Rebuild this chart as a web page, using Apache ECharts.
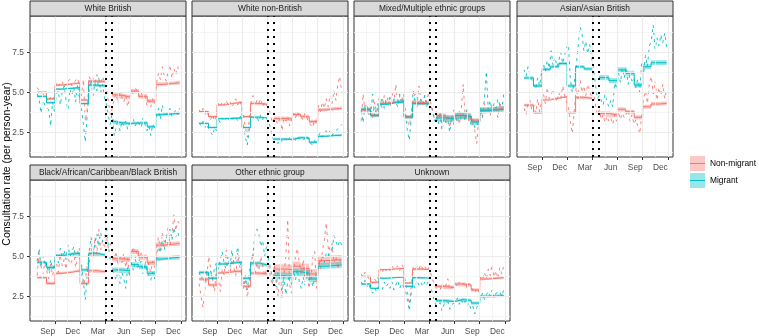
<!DOCTYPE html>
<html>
<head>
<meta charset="utf-8">
<script src="https://cdn.jsdelivr.net/npm/echarts@6/dist/echarts.min.js"></script>
<style>
  html, body { margin: 0; padding: 0; background: #fff; }
  #chart { width: 759px; height: 336px; }
</style>
</head>
<body>
<div id="chart"></div>
<script>
const panelNames = [
  "White British",
  "White non-British",
  "Mixed/Multiple ethnic groups",
  "Asian/Asian British",
  "Black/African/Caribbean/Black British",
  "Other ethnic group",
  "Unknown",
];

// x axis ticks
const tickDates = ["2019-09-01", "2019-12-01", "2020-03-01", "2020-06-01", "2020-09-01", "2020-12-01"];
const tickLabels = ["Sep", "Dec", "Mar", "Jun", "Sep", "Dec"];
const minorDates = ["2019-07-17", "2019-10-16", "2020-01-15", "2020-04-16", "2020-07-17", "2020-10-16"];
const yTicks = [2.5, 5.0, 7.5];
const yMinor = [1.25, 3.75, 6.25, 8.75];

// dotted lines (interruption period)
const breakDates = ["2020-03-05", "2020-03-26"];

// weekly observations start here, 75 weeks
const firstWeek = "2019-06-28";
const nWeeks = 75;

// fitted model: month steps before and after interruption
const fitPreStarts = ["2019-06-28", "2019-08-01", "2019-09-01", "2019-10-01", "2019-11-01", "2019-12-01", "2020-01-01", "2020-02-01"];
const fitPreEnd = "2020-03-01";
const fitPostStarts = ["2020-03-26", "2020-04-01", "2020-05-01", "2020-06-01", "2020-07-01", "2020-08-01", "2020-09-01", "2020-10-01", "2020-11-01"];
const fitPostEnd = "2020-11-27";

// observed weekly rates (non-migrant / migrant) per panel
const wbNonObs = [5.3,5.1,5.2,4.9,5.0, 4.6,4.4,4.7,4.5,4.8, 5.6,5.4,5.5,5.7, 5.3,5.6,5.5,5.8, 5.4,5.6,5.5,5.9,6.0, 4.8,5.8,3.2,4.0, 6.0,5.7,5.9,5.6,6.1, 5.8,5.5,6.0,5.6, 5.2,4.4,3.6,4.0, 4.6,4.9,4.3,5.0,4.7, 4.4,4.8,4.1,4.6, 5.1,4.8,5.3,5.0, 4.7,5.0,4.6,4.9,4.2, 4.5,4.1,4.6,4.3, 5.6,6.2,5.8,6.6,6.0, 5.7,6.3,6.7,5.9, 6.5,6.1,6.6,6.2];
const wbMigObs = [4.9,4.6,3.7,4.5,4.2, 4.3,3.9,2.9,4.4,3.8, 4.9,5.1,4.2,5.0, 5.4,4.5,3.9,5.2, 4.8,5.3,4.4,5.5,4.6, 4.0,3.0,1.9,3.6, 5.2,5.8,4.8,5.6,5.1, 5.9,5.0,5.5,4.6, 4.3,3.5,3.0,3.8, 2.3,2.8,3.3,2.6,3.2, 2.9,3.2,2.7,3.1, 3.0,3.3,2.9,3.2, 3.1,2.8,3.4,3.0,2.6, 2.9,2.3,3.0,2.8, 3.5,4.0,3.3,4.2,3.6, 3.8,3.4,4.0,3.5, 3.7,3.9,3.6,4.0];
const wnbNonObs = [3.9,3.7,4.0,3.6,3.8, 3.5,3.3,3.6,3.2,3.5, 4.3,4.1,4.4,4.2, 4.5,4.2,4.4,4.1, 4.3,4.6,4.2,4.5,4.4, 3.6,2.8,2.2,3.3, 4.4,4.8,4.2,4.5,4.3, 4.6,4.1,4.4,4.3, 4.0,3.6,3.1,3.4, 3.3,3.0,3.5,2.6,3.4, 3.2,3.5,2.9,3.3, 3.7,3.4,3.8,3.5, 3.6,3.3,3.7,3.4,3.1, 3.2,2.8,3.3,3.0, 4.2,3.8,4.4,4.0,4.6, 4.1,4.8,4.3,5.1, 4.5,5.5,6.0,5.0];
const wnbMigObs = [3.1,2.9,3.2,2.8,3.0, 2.7,2.5,2.3,2.8,2.6, 3.3,3.1,3.4,3.2, 3.4,3.2,3.5,3.3, 3.3,3.5,3.2,3.4,3.6, 2.9,2.2,1.7,2.6, 3.5,3.3,3.6,3.4,3.2, 3.6,3.3,3.5,3.4, 3.2,2.8,2.2,2.0, 2.0,1.8,2.1,1.9,2.0, 2.1,1.9,2.2,2.0, 2.2,2.0,2.3,2.1, 2.2,2.0,2.1,2.3,1.9, 1.9,1.7,2.0,1.8, 2.3,2.5,2.2,2.4,2.6, 2.4,2.6,2.3,2.5, 2.5,2.7,2.6,3.0];
const mixNonObs = [3.2,4.9,3.8,4.3,3.6, 4.1,3.4,4.4,3.7,4.6, 4.5,4.0,4.8,4.3, 4.7,4.1,5.0,4.4, 5.5,4.2,4.8,4.5,4.9, 3.8,3.2,2.9,3.6, 4.5,4.9,4.1,5.4,4.6, 4.2,4.8,4.4,5.0, 4.4,3.9,3.4,3.8, 3.3,3.8,2.9,3.6,3.1, 3.6,2.8,3.4,3.9, 3.2,3.7,3.0,4.0, 5.5,3.4,4.0,3.1,3.6, 3.0,2.6,1.8,3.3, 3.9,3.4,4.3,3.7,4.1, 3.5,4.2,3.8,4.0, 3.4,4.4,3.9,4.2];
const mixMigObs = [3.9,3.1,4.2,3.6,4.0, 3.7,4.9,3.5,4.1,3.8, 4.3,4.7,4.0,4.5, 4.2,4.8,4.4,4.6, 4.5,4.1,4.9,4.3,4.7, 3.6,2.6,2.0,3.4, 5.1,4.4,4.7,4.2,4.6, 4.3,4.8,4.1,4.5, 4.6,3.9,3.2,3.5, 3.0,3.6,2.6,3.4,3.1, 3.3,2.5,3.5,3.0, 3.6,3.1,3.8,3.3, 3.7,3.2,3.9,3.4,3.0, 3.3,2.8,3.1,2.9, 4.0,3.5,4.6,6.3,3.9, 4.5,3.8,4.3,4.0, 4.6,4.2,3.9,4.9];
const asiNonObs = [4.0,3.6,4.3,4.5,3.9, 4.2,3.7,4.6,3.8,4.4, 4.9,4.3,5.3,4.6, 4.5,5.2,4.8,4.4, 5.0,4.6,5.4,4.8,4.9, 4.1,3.2,2.4,3.8, 5.3,4.6,5.8,5.0,5.4, 4.8,5.5,5.1,4.7, 5.0,4.2,3.6,3.9, 3.3,3.6,3.1,3.5,3.2, 3.4,3.0,3.6,3.2, 3.8,3.3,3.7,3.4, 3.5,3.9,3.2,3.6,3.0, 3.3,2.9,2.4,3.5, 4.6,5.1,4.3,5.6,6.0, 4.9,5.7,4.5,5.3, 4.8,5.5,4.6,5.2];
const asiMigObs = [6.4,6.0,6.6,6.1,5.8, 5.7,5.2,5.9,5.4,6.2, 6.8,6.3,7.0,6.5, 7.6,6.7,7.2,6.6, 7.0,7.5,6.8,7.3,7.8, 8.0,5.8,5.0,5.6, 6.6,7.8,9.1,8.7,7.6, 8.2,7.4,8.0,7.2, 6.5,5.5,4.6,4.8, 4.7,4.2,4.9,4.4,4.1, 4.5,4.1,5.6,5.2, 6.2,5.6,6.5,5.9, 6.6,5.5,6.3,5.7,5.9, 5.3,5.8,5.0,6.8, 6.2,7.3,6.6,7.9,8.2, 9.2,7.7,8.4,7.9, 8.6,8.1,8.7,7.8];
const blkNonObs = [3.8,5.2,4.4,3.9,4.6, 4.1,3.6,4.5,3.8,4.3, 4.6,4.0,5.1,4.4, 4.8,4.2,5.0,4.5, 4.7,5.2,4.3,4.9,5.5, 4.0,3.2,3.6,4.4, 4.6,5.5,4.8,6.2,5.1, 6.7,5.4,6.0,5.6, 6.2,5.5,5.8,5.3, 4.8,5.3,4.4,5.0,4.6, 5.2,4.3,4.9,3.8, 5.1,5.6,4.9,5.4, 4.7,5.2,4.9,4.5,5.0, 4.4,4.0,4.7,4.3, 5.6,6.2,5.4,6.5,5.9, 6.1,6.8,5.7,6.4, 7.6,6.6,7.2,7.0];
const blkMigObs = [4.7,5.5,4.3,5.0,4.6, 4.4,4.0,4.8,4.2,4.6, 5.1,4.6,5.5,4.9, 5.4,4.8,5.7,5.0, 5.2,5.6,4.9,5.3,5.0, 4.5,3.4,2.3,3.9, 5.3,6.2,5.0,5.8,6.4, 5.6,6.5,5.9,6.2, 6.9,5.6,4.8,4.2, 3.9,3.5,4.2,3.3,4.0, 3.6,3.0,4.3,3.8, 4.6,4.1,4.8,4.3, 4.2,4.7,3.9,4.5,4.1, 3.8,3.5,4.0,3.6, 4.9,5.6,5.2,6.0,5.4, 6.3,5.8,6.7,6.0, 6.8,6.2,6.5,6.1];
const othNonObs = [3.3,2.5,1.8,3.0,3.8, 5.0,4.2,3.5,2.8,4.4, 3.6,2.8,4.2,3.8, 5.4,4.3,3.9,4.8, 4.3,3.8,5.2,4.4,3.9, 3.0,3.6,2.4,3.4, 4.6,5.2,3.9,4.6,4.1, 5.0,4.4,3.8,4.2, 4.6,3.7,3.2,4.5, 3.4,2.5,4.2,2.4,3.8, 5.0,7.3,3.2,2.7, 4.0,5.0,5.5,4.6, 3.8,4.8,3.4,4.2,3.0, 3.6,5.0,5.3,3.0, 4.6,4.2,5.4,6.0,7.1, 5.6,4.6,5.8,4.6, 5.0,4.2,4.8,4.4];
const othMigObs = [4.0,3.6,3.8,3.3,4.1, 3.7,4.1,3.5,4.3,4.6, 4.2,4.8,5.3,4.5, 4.2,5.0,4.3,5.4, 4.6,4.9,5.6,4.7,4.2, 3.3,3.8,2.9,3.9, 4.8,5.2,6.5,6.7,6.4, 5.6,6.0,5.0,5.6, 4.8,4.3,3.6,3.3, 3.1,4.0,3.5,2.9,3.8, 2.6,3.4,3.9,3.2, 4.1,3.5,4.2,3.4, 3.0,3.7,3.2,4.0,3.5, 3.8,3.1,3.6,3.9, 4.4,4.8,5.0,4.6,5.2, 5.0,5.6,5.4,6.3, 6.2,5.6,6.0,5.7];
const unkNonObs = [3.9,3.7,4.0,3.8,3.6, 3.5,3.3,3.6,3.4,3.5, 4.2,4.0,4.3,4.1, 4.3,4.1,4.4,4.2, 4.2,4.4,4.1,4.5,4.3, 3.4,2.8,2.0,3.2, 4.3,4.1,4.4,4.2,4.5, 4.2,4.4,4.1,4.3, 4.0,3.6,3.2,3.0, 3.1,2.9,3.3,3.0,3.2, 3.6,2.9,3.1,3.0, 3.3,3.1,3.4,3.2, 3.2,3.4,3.0,3.3,3.1, 2.9,2.7,3.0,2.8, 3.7,3.5,4.0,3.6,4.2, 3.8,4.5,3.7,4.1, 3.6,4.3,3.9,4.4];
const unkMigObs = [3.4,3.2,3.5,3.1,3.3, 2.9,2.7,3.0,2.8,3.1, 3.2,2.9,3.4,3.1, 3.3,3.0,3.4,2.9, 3.2,3.5,3.0,3.3,3.4, 2.9,2.3,1.6,2.7, 3.3,3.0,3.5,3.2,3.4, 3.1,3.4,3.2,3.5, 3.2,2.7,2.2,1.9, 1.8,2.1,1.6,2.0,1.9, 2.2,1.7,2.0,1.9, 2.1,2.4,2.0,2.3, 2.0,2.2,1.9,2.1,1.7, 1.9,1.4,1.8,2.0, 2.4,2.7,2.3,2.6,2.8, 2.5,2.9,2.4,2.7, 2.6,2.8,2.5,2.9];

// fitted monthly levels: Jul19..Feb20, then Mar20(post)..Nov20
const wbNonFit = [5.0,4.6,5.45,5.52,5.58,4.52,5.7,5.67, 4.85,4.82,4.7,5.08,4.75,4.45,5.5,5.55,5.6];
const wbMigFit = [4.75,4.35,5.2,5.25,5.3,4.3,5.45,5.4, 3.2,3.1,3.05,3.08,3.1,2.85,3.6,3.65,3.7];
const wnbNonFit = [3.8,3.48,4.21,4.31,4.37,3.48,4.31,4.25, 3.37,3.37,3.33,3.62,3.48,3.17,3.9,3.96,4.0];
const wnbMigFit = [3.06,2.8,3.35,3.38,3.4,2.8,3.45,3.4, 2.08,2.08,2.05,2.17,2.15,1.88,2.25,2.3,2.32];
const mixNonFit = [3.9,3.58,4.31,4.38,4.46,3.48,4.38,4.31, 3.54,3.54,3.38,3.54,3.48,3.21,3.9,3.94,3.98];
const mixMigFit = [3.95,3.55,4.25,4.35,4.4,3.45,4.3,4.3, 3.4,3.4,3.35,3.55,3.5,3.15,3.85,3.9,3.95];
const asiNonFit = [4.2,3.73,4.52,4.63,4.73,3.73,4.69,4.63, 3.69,3.69,3.58,3.94,3.79,3.44,4.1,4.27,4.31];
const asiMigFit = [5.9,5.4,6.44,6.6,6.8,5.4,6.6,6.46, 5.92,5.92,5.73,6.4,6.19,5.46,6.6,6.85,6.85];
const blkNonFit = [3.69,3.31,3.94,4.0,4.1,3.31,4.1,4.04, 4.85,4.85,4.8,5.3,4.95,4.6,5.7,5.75,5.8];
const blkMigFit = [4.63,4.31,5.04,5.15,5.19,4.15,5.19,5.08, 4.15,4.15,4.1,4.48,4.35,3.94,4.83,4.9,4.94];
const othNonFit = [3.58,3.21,3.96,4.04,4.08,3.13,3.96,3.9, 4.21,4.21,4.17,4.38,4.25,3.9,4.73,4.77,4.79];
const othMigFit = [4.0,3.63,4.52,4.58,4.63,3.63,4.58,4.46, 3.79,3.79,3.75,4.04,3.94,3.58,4.38,4.42,4.46];
const unkNonFit = [3.75,3.38,4.17,4.21,4.25,3.33,4.21,4.17, 3.13,3.13,3.04,3.27,3.21,2.9,3.58,3.63,3.67];
const unkMigFit = [3.27,3.0,3.63,3.67,3.71,3.13,3.67,3.63, 2.23,2.23,2.17,2.29,2.25,2.08,2.5,2.52,2.54];

// confidence half-widths [pre, post]
const ciNon = [[0.08,0.13],[0.07,0.12],[0.1,0.15],[0.08,0.13],[0.1,0.16],[0.1,0.3],[0.06,0.1]];
const ciMig = [[0.07,0.1],[0.06,0.08],[0.1,0.2],[0.1,0.16],[0.1,0.15],[0.1,0.2],[0.06,0.1]];

const nonObs = [wbNonObs, wnbNonObs, mixNonObs, asiNonObs, blkNonObs, othNonObs, unkNonObs];
const migObs = [wbMigObs, wnbMigObs, mixMigObs, asiMigObs, blkMigObs, othMigObs, unkMigObs];
const nonFit = [wbNonFit, wnbNonFit, mixNonFit, asiNonFit, blkNonFit, othNonFit, unkNonFit];
const migFit = [wbMigFit, wnbMigFit, mixMigFit, asiMigFit, blkMigFit, othMigFit, unkMigFit];

const NON = "#F8766D";
const MIG = "#00BFC4";
const NON_FILL = "rgba(248,118,109,0.4)";
const MIG_FILL = "rgba(0,191,196,0.4)";
const FONT = "Liberation Sans";

// dates as plain day numbers (value axis)
function ts(s) {
  const [y, m, d] = s.split("-").map(Number);
  return Date.UTC(y, m - 1, d) / 86400000;
}

const weeks = [];
for (let i = 0; i < nWeeks; i++) weeks.push(ts(firstWeek) + i * 7);

const tickTs = tickDates.map(ts);
const xMin = ts("2019-06-02");
const xMax = ts("2020-12-20");

// layout (facet_wrap 4 columns)
const colLeft = [30, 192, 354, 517];
const panelW = 156;
const rowTop = [16, 180];
const panelH = 141;
const stripH = 15;

const grids = [], xAxes = [], yAxes = [], series = [], graphics = [];

function xLabel(v) {
  for (let k = 0; k < tickTs.length; k++) {
    if (Math.abs(tickTs[k] - v) < 0.5) return tickLabels[k];
  }
  return "";
}

function stepSeg(starts, end, vals) {
  const xs = starts.map(ts).concat([ts(end)]);
  const vs = vals.concat([vals[vals.length - 1]]);
  return xs.map((x, k) => [x, vs[k]]);
}

function addGroup(i, name, fit, ci, color, fill) {
  const segs = [
    stepSeg(fitPreStarts, fitPreEnd, fit.slice(0, 8)),
    stepSeg(fitPostStarts, fitPostEnd, fit.slice(8)),
  ];
  segs.forEach((seg, s) => {
    const stack = "b" + i + name + s;
    // value first so the stack runs on y (both axes are numeric)
    const base = {
      type: "line", xAxisIndex: i, yAxisIndex: i, step: "end",
      symbol: "none", silent: true, animation: false, stack: stack,
      encode: { x: 1, y: 0 },
    };
    series.push(Object.assign({}, base, {
      name: name + "-lo",
      data: seg.map((p) => [p[1] - ci[s], p[0]]),
      lineStyle: { opacity: 0 },
      z: 2,
    }));
    series.push(Object.assign({}, base, {
      name: name,
      data: seg.map((p) => [2 * ci[s], p[0]]),
      lineStyle: { opacity: 0 },
      itemStyle: { color: fill },
      areaStyle: { color: fill, opacity: 1 },
      z: 2,
    }));
    series.push({
      type: "line", xAxisIndex: i, yAxisIndex: i, step: "end",
      symbol: "none", silent: true, animation: false,
      name: name + "-fit",
      data: seg,
      lineStyle: { color: color, width: 1 },
      z: 4,
    });
  });
}

panelNames.forEach((pname, i) => {
  const row = i < 4 ? 0 : 1;
  const col = i < 4 ? i : i - 4;
  const left = colLeft[col];
  const top = rowTop[row];
  const hasX = i >= 3;
  const hasY = col === 0;

  grids.push({
    left: left, top: top, width: panelW, height: panelH,
    show: true, borderColor: "#333333", borderWidth: 1,
    backgroundColor: "transparent", containLabel: false,
  });

  xAxes.push({
    type: "value", gridIndex: i, min: xMin, max: xMax,
    axisLine: { show: false },
    splitLine: { show: false },
    axisTick: { show: hasX, customValues: tickTs, length: 3, lineStyle: { color: "#333333" } },
    axisLabel: {
      show: hasX, customValues: tickTs, formatter: xLabel, align: "right",
      margin: 7, fontSize: 8.4, color: "#4D4D4D", fontFamily: FONT,
    },
  });

  yAxes.push({
    type: "value", gridIndex: i, min: 0.96, max: 9.77,
    axisLine: { show: false },
    splitLine: { show: false },
    axisTick: { show: hasY, customValues: yTicks, length: 3, lineStyle: { color: "#333333" } },
    axisLabel: {
      show: hasY, customValues: yTicks, formatter: (v) => v.toFixed(1),
      margin: 6, fontSize: 8.4, color: "#4D4D4D", fontFamily: FONT,
    },
  });

  // grid lines
  const gl = [];
  minorDates.forEach((d) => gl.push({ xAxis: ts(d), lineStyle: { color: "#F2F2F2", width: 0.8, type: "solid" } }));
  yMinor.forEach((v) => gl.push({ yAxis: v, lineStyle: { color: "#F2F2F2", width: 0.8, type: "solid" } }));
  tickDates.forEach((d) => gl.push({ xAxis: ts(d), lineStyle: { color: "#EBEBEB", width: 1.1, type: "solid" } }));
  yTicks.forEach((v) => gl.push({ yAxis: v, lineStyle: { color: "#EBEBEB", width: 1.1, type: "solid" } }));
  series.push({
    type: "line", xAxisIndex: i, yAxisIndex: i, data: [], silent: true, z: 1,
    animation: false,
    markLine: { symbol: ["none", "none"], silent: true, label: { show: false }, animation: false, data: gl },
  });

  // ribbons + fitted lines
  addGroup(i, "Non-migrant", nonFit[i], ciNon[i], NON, NON_FILL);
  addGroup(i, "Migrant", migFit[i], ciMig[i], MIG, MIG_FILL);

  // observed weekly rates
  [[nonObs[i], NON, "Non-migrant-obs"], [migObs[i], MIG, "Migrant-obs"]].forEach(([vals, color, nm]) => {
    series.push({
      type: "line", xAxisIndex: i, yAxisIndex: i, name: nm,
      data: weeks.map((t, k) => [t, vals[k]]),
      symbol: "none", silent: true, animation: false,
      lineStyle: { color: color, width: 0.9, type: [3, 4] },
      z: 3,
    });
  });

  // interruption lines
  series.push({
    type: "line", xAxisIndex: i, yAxisIndex: i, data: [], silent: true, z: 5,
    animation: false,
    markLine: {
      symbol: ["none", "none"], silent: true, label: { show: false }, animation: false,
      lineStyle: { color: "#000000", width: 2, type: [2, 5], cap: "butt" },
      data: breakDates.map((d) => ({ xAxis: ts(d) })),
    },
  });

  // strip
  graphics.push({
    type: "rect", z: 10,
    shape: { x: left, y: top - stripH, width: panelW, height: stripH },
    style: { fill: "#D9D9D9", stroke: "#333333", lineWidth: 1 },
  });
  graphics.push({
    type: "text", z: 11,
    x: left + panelW / 2, y: top - stripH / 2,
    style: { text: pname, align: "center", verticalAlign: "middle", fontSize: 8.4, fontFamily: FONT, fill: "#1A1A1A" },
  });
});

// y title
graphics.push({
  type: "text", z: 11, x: 7.5, y: 164, rotation: Math.PI / 2,
  style: { text: "Consultation rate (per person-year)", align: "center", verticalAlign: "middle", fontSize: 10.5, fontFamily: FONT, fill: "#000" },
});

// legend key lines
graphics.push({ type: "line", z: 20, shape: { x1: 690, y1: 163.5, x2: 705, y2: 163.5 }, style: { stroke: NON, lineWidth: 1 } });
graphics.push({ type: "line", z: 20, shape: { x1: 690, y1: 180.5, x2: 705, y2: 180.5 }, style: { stroke: MIG, lineWidth: 1 } });

const chart = echarts.init(document.getElementById("chart"), null, { renderer: "canvas" });
chart.setOption({
  animation: false,
  backgroundColor: "#ffffff",
  grid: grids,
  xAxis: xAxes,
  yAxis: yAxes,
  legend: {
    orient: "vertical", left: 690, top: 156, padding: 0,
    itemWidth: 15, itemHeight: 15, itemGap: 2, selectedMode: false,
    textStyle: { fontSize: 8.4, color: "#000", fontFamily: FONT },
    data: [
      { name: "Non-migrant", icon: "rect", itemStyle: { color: NON_FILL, borderWidth: 0 } },
      { name: "Migrant", icon: "rect", itemStyle: { color: MIG_FILL, borderWidth: 0 } },
    ],
  },
  graphic: graphics,
  series: series,
});
</script>
</body>
</html>
